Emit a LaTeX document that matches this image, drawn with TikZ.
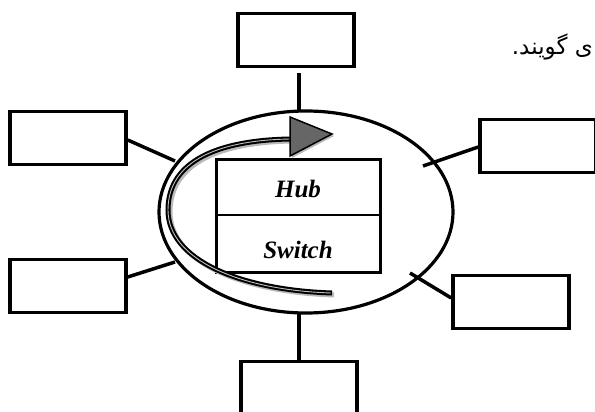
\documentclass[tikz,border=0pt]{standalone}
\usepackage{fontspec}
\setmainfont{Liberation Serif}
\newfontfamily\arabicfont[Script=Arabic]{DejaVu Sans}
\TeXXeTstate=1
\begin{document}
\begin{tikzpicture}[x=1pt,y=-1pt,
  box/.style={draw=black,line width=3.5pt,fill=white,minimum width=116pt,minimum height=53pt,inner sep=0pt},
  link/.style={line width=3.5pt},
  lbl/.style={font=\fontsize{25}{28}\selectfont\bfseries\itshape}]
\useasboundingbox (0,0) rectangle (595,412);
% Persian text
\node[anchor=east,inner sep=0pt,font=\arabicfont\fontsize{23}{26}\selectfont] (fa) at (593,47) {\beginR ی گویند.\endR};
% ellipse
\draw[line width=3.2pt] (306,212) ellipse [x radius=147pt, y radius=101pt];
\coordinate (eT) at (299,111);
\coordinate (eB) at (299,314);
\coordinate (eLT) at (175,161);
\coordinate (eLB) at (175,262);
\coordinate (eRT) at (423,166);
\coordinate (eRB) at (410,273);
% boxes
\node[box] (top) at (296,40) {};
\node[box] (bot) at (299,388) {};
\node[box] (lt) at (68,138) {};
\node[box] (lb) at (68,286) {};
\node[box] (rt) at (538,146) {};
\node[box] (rb) at (511,302) {};
% connectors
\draw[link] (eT |- 0,73) -- (eT);
\draw[link] (eB) -- (bot.north -| eB);
\draw[link] (lt.east |- 0,140) -- (eLT);
\draw[link] (lb.east |- 0,277) -- (eLB);
\draw[link] (rt.west |- 0,147) -- (eRT);
\draw[link] (rb.west |- 0,298) -- (eRB);
% hub/switch box
\node[draw,line width=2.8pt,minimum width=164pt,minimum height=113pt,inner sep=0pt] (hs) at (298.5,216) {};
\draw[line width=1.2pt] (hs.west |- 0,215) -- (hs.east |- 0,215);
\node[lbl] (hub) at (298,189) {Hub};
\node[lbl] (sw) at (298,250) {Switch};
% curved arrow: shadow
\begin{scope}[shift={(2,2)}]
\draw[gray!55,line width=5pt] (332,293) .. controls (240,290) and (168,260) .. (168,210) .. controls (168,160) and (220,140) .. (291,139);
\fill[gray!55] (290,117) -- (290,156) -- (332,134) -- cycle;
\end{scope}
\draw[black,line width=5pt] (332,293) .. controls (240,290) and (168,260) .. (168,210) .. controls (168,160) and (220,140) .. (291,139);
\draw[gray!50,line width=0.9pt] (331,293) .. controls (240,290) and (168,260) .. (168,210) .. controls (168,160) and (220,140) .. (291,139);
\filldraw[fill=black!60,draw=black,line width=1.5pt,line join=miter] (290,117) -- (290,156) -- (332,134) -- cycle;
\end{tikzpicture}
\end{document}
